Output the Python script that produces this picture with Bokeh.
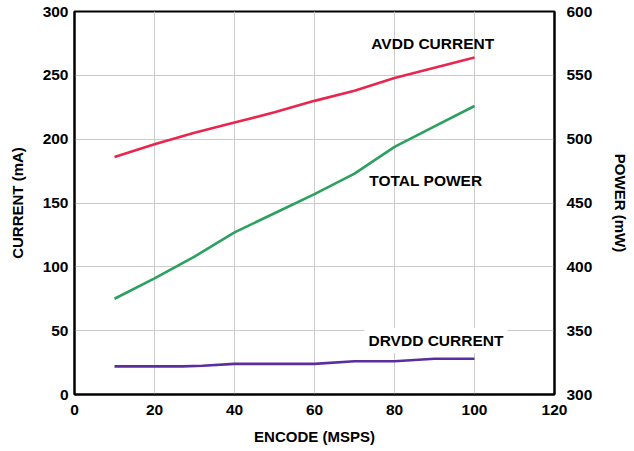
from bokeh.plotting import figure
from bokeh.models import LinearAxis, Range1d, Label, FixedTicker
from bokeh.embed import file_html
from bokeh.resources import INLINE

encode = [10, 20, 30, 40, 50, 60, 70, 80, 90, 100]
avdd_current = [186, 196, 205, 213, 221, 230, 238, 248, 256, 264]
total_power = [375, 391, 408, 427, 442, 457, 473, 494, 510, 526]
drvdd_encode = [10, 20, 27, 32, 40, 50, 60, 70, 80, 90, 100]
drvdd_current = [22, 22, 22, 22.5, 24, 24, 24, 26, 26, 28, 28]

x_ticks = [0, 20, 40, 60, 80, 100, 120]
y_ticks = [0, 50, 100, 150, 200, 250, 300]
p_ticks = [300, 350, 400, 450, 500, 550, 600]

FONT = "Liberation Sans"

p = figure(frame_width=480, frame_height=383, output_backend="svg", toolbar_location=None,
           x_range=Range1d(0, 120), y_range=Range1d(0, 300),
           min_border_left=74, min_border_right=0, min_border_top=11, min_border_bottom=0)
p.extra_y_ranges = {"power": Range1d(300, 600)}

p.outline_line_color = "black"
p.outline_line_width = 2
p.background_fill_color = "white"
p.border_fill_color = "white"

p.xgrid.grid_line_color = "#cccccc"
p.ygrid.grid_line_color = "#cccccc"
p.xgrid.grid_line_width = 1
p.ygrid.grid_line_width = 1

right = LinearAxis(y_range_name="power")
p.add_layout(right, "right")

p.xaxis.ticker = FixedTicker(ticks=x_ticks)
p.yaxis[0].ticker = FixedTicker(ticks=y_ticks)
right.ticker = FixedTicker(ticks=p_ticks)

for ax in [p.xaxis[0], p.yaxis[0], right]:
    ax.axis_line_color = "black"
    ax.axis_line_width = 2
    ax.major_tick_line_color = None
    ax.minor_tick_line_color = None
    ax.major_tick_out = 0
    ax.major_tick_in = 0
    ax.minor_tick_out = 0
    ax.minor_tick_in = 0
    ax.major_label_text_font = FONT
    ax.major_label_text_font_style = "bold"
    ax.major_label_text_font_size = "15.5px"
    ax.major_label_text_color = "black"
    ax.axis_label_text_font = FONT
    ax.axis_label_text_font_style = "bold"
    ax.axis_label_text_font_size = "15px"
    ax.axis_label_text_color = "black"

p.xaxis[0].axis_label = "ENCODE (MSPS)"
p.xaxis[0].major_label_standoff = 10
p.xaxis[0].axis_label_standoff = 10
p.yaxis[0].axis_label = "CURRENT (mA)"
p.yaxis[0].major_label_standoff = 6
p.yaxis[0].axis_label_standoff = 14
right.axis_label = "POWER (mW)"
right.major_label_standoff = 12
right.axis_label_standoff = 17

p.line(encode, avdd_current, line_color="#E8274F", line_width=2.6)
p.line(encode, total_power, line_color="#2BA05F", line_width=2.6, y_range_name="power")
p.line(drvdd_encode, drvdd_current, line_color="#5B2E9E", line_width=2.6)

lab_kw = dict(text_font=FONT, text_font_style="bold", text_font_size="15.5px",
              text_color="black", text_baseline="middle")
p.add_layout(Label(x=74.2, y=275, text="AVDD CURRENT", **lab_kw))
p.add_layout(Label(x=73.7, y=167.5, text="TOTAL POWER", **lab_kw))
p.add_layout(Label(x=72.5, y=42.3, text="DRVDD CURRENT", background_fill_color="white",
                   padding=4, **lab_kw))

open("out.html", "w").write(file_html(p, INLINE))
